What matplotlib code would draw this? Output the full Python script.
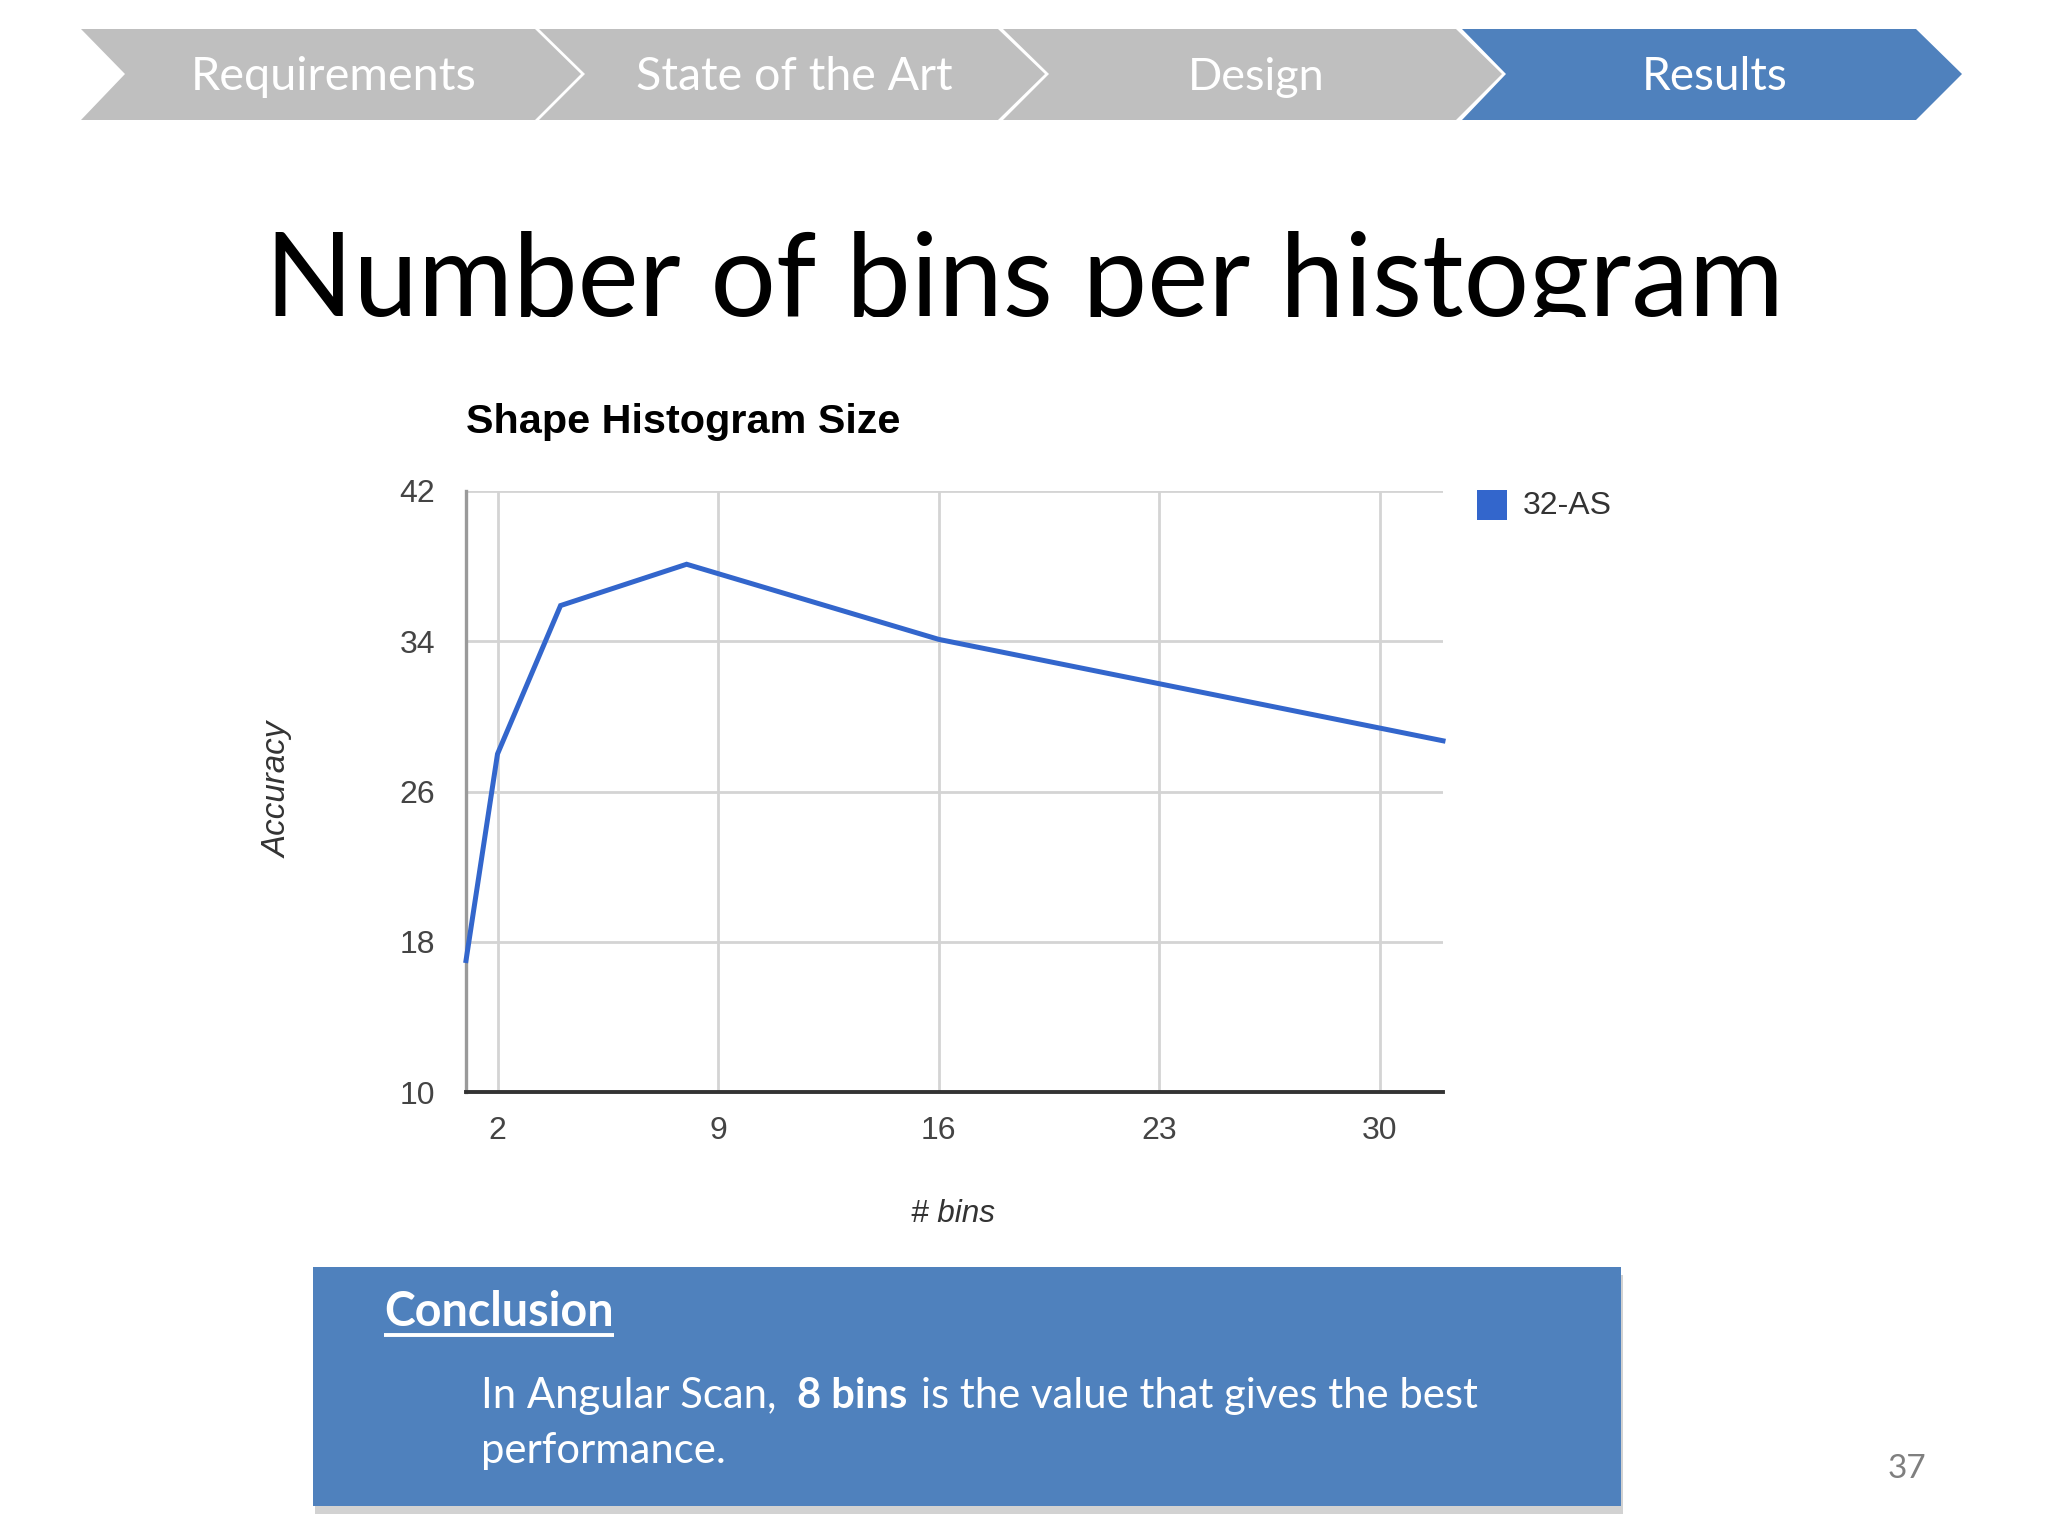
import matplotlib
matplotlib.use("Agg")
import matplotlib.pyplot as plt
from matplotlib.patches import Polygon, Rectangle
from matplotlib.transforms import Bbox

# ---- data ----
bins = [1, 2, 4, 8, 16, 32]
accuracy = [17.0, 28.0, 35.9, 38.1, 34.1, 28.7]
series_name = "32-AS"
x_ticks = [2, 9, 16, 23, 30]
y_ticks = [10, 18, 26, 34, 42]
steps = ["Requirements", "State of the Art", "Design", "Results"]
active_step = "Results"

W, H = 2048, 1536
DPI = 200
fig = plt.figure(figsize=(W / DPI, H / DPI), dpi=DPI, facecolor="white")
ov = fig.add_axes([0, 0, 1, 1], zorder=0)
ov.set_xlim(0, W)
ov.set_ylim(H, 0)
ov.axis("off")
ov.patch.set_alpha(0)
renderer = fig.canvas.get_renderer()

SLIDE_FONT = ["Lato", "DejaVu Sans"]
CHART_FONT = ["Liberation Sans", "DejaVu Sans"]


def fit(t, w):
    bb = t.get_window_extent(renderer)
    t.set_fontsize(t.get_fontsize() * w / bb.width)
    return t


# ---- breadcrumb chevrons ----
GRAY = "#BFBFBF"
BLUE = "#4F81BD"
chev = [(81, 125, 535, 581), (539, 585, 998, 1045),
        (1003, 1049, 1456, 1502), (1462, 1506, 1916, 1962)]
top, bot, mid = 29, 120, 74
for name, (l, n, r, tip) in zip(steps, chev):
    col = BLUE if name == active_step else GRAY
    ov.add_patch(Polygon([(l, top), (r, top), (tip, mid), (r, bot), (l, bot), (n, mid)],
                         closed=True, facecolor=col, edgecolor="none"))
text_w = {"Requirements": 287, "State of the Art": 317, "Design": 137, "Results": 146}
centers = {"Requirements": 334, "State of the Art": 794, "Design": 1256, "Results": 1715}
for name in steps:
    t = ov.text(centers[name], 90, name, ha="center", va="baseline", color="white",
                fontsize=17, family=SLIDE_FONT)
    fit(t, text_w[name])

# ---- slide title (descenders clipped) ----
tt = ov.text(1024, 316, "Number of bins per histogram", ha="center", va="baseline",
             color="black", fontsize=40, family=SLIDE_FONT)
fit(tt, 1520)
tt.set_clip_box(Bbox([[0, H - 317], [W, H]]))
tt.set_clip_on(True)

# ---- chart ----
L, R, T, B = 466, 1443, 491, 1092
ax = fig.add_axes([L / W, 1 - B / H, (R - L) / W, (B - T) / H], zorder=1)
ax.plot(bins, accuracy, color="#3366CC", lw=1.8, solid_joinstyle="miter", clip_on=False, zorder=3)
ax.set_xlim(1, 32)
ax.set_ylim(10, 42)
ax.set_xticks(x_ticks)
ax.set_yticks(y_ticks)
ax.grid(True, color="#d4d4d4", lw=1.0)
ax.set_axisbelow(True)
for s in ("top", "right"):
    ax.spines[s].set_visible(False)
ax.spines["left"].set_color("#9a9a9a")
ax.spines["left"].set_linewidth(1.2)
ax.spines["bottom"].set_color("#333333")
ax.spines["bottom"].set_linewidth(1.4)
ax.tick_params(length=0, labelsize=11.5, colors="#444444")
ax.tick_params(axis="y", pad=11)
ax.tick_params(axis="x", pad=8.5)
for lab in ax.get_xticklabels() + ax.get_yticklabels():
    lab.set_family(CHART_FONT)

ct = ov.text(466, 433, "Shape Histogram Size", ha="left", va="baseline", color="black",
             fontsize=14, fontweight="bold", family=CHART_FONT)
fit(ct, 435)
yl = ov.text(278, 790, "Accuracy", ha="center", va="center", rotation=90, color="#333333",
             fontsize=11, fontstyle="italic", family=CHART_FONT)
yl.set_fontsize(yl.get_fontsize() * 136 / yl.get_window_extent(renderer).height)
xl = ov.text(953, 1214, "# bins", ha="center", va="center", color="#333333",
             fontsize=11, fontstyle="italic", family=CHART_FONT)
fit(xl, 84)

# legend
ov.add_patch(Rectangle((1477, 490), 30, 30, facecolor="#3366CC", edgecolor="none"))
lt = ov.text(1523, 506, series_name, ha="left", va="center", color="#333333",
             fontsize=12, family=CHART_FONT)
fit(lt, 89)

# ---- conclusion box ----
bx0, bx1, by0, by1 = 313, 1621, 1267, 1506
ov.add_patch(Rectangle((bx0 + 2, by0 + 8), bx1 - bx0, by1 - by0, facecolor="#d2d2d2",
                       edgecolor="none"))
ov.add_patch(Rectangle((bx0, by0), bx1 - bx0, by1 - by0, facecolor=BLUE, edgecolor="none"))

hc = ov.text(384, 1326, "Conclusion", ha="left", va="baseline", color="white",
             fontsize=20, fontweight="bold", family=SLIDE_FONT)
fit(hc, 230)
ov.plot([384, 384 + 230], [1335, 1335], color="white", lw=1.4, solid_capstyle="butt")

p3 = ov.text(921, 1408, "is the value that gives the best", ha="left", va="baseline",
             color="white", fontsize=18, family=SLIDE_FONT)
fit(p3, 556)
fs = p3.get_fontsize()
ov.text(481, 1408, "In Angular Scan,", ha="left", va="baseline", color="white",
        fontsize=fs, family=SLIDE_FONT)
ov.text(797, 1408, "8 bins", ha="left", va="baseline", color="white",
        fontsize=fs, fontweight="bold", family=SLIDE_FONT)
ov.text(481, 1463, "performance.", ha="left", va="baseline", color="white",
        fontsize=fs, family=SLIDE_FONT)

ov.text(1907, 1478, "37", ha="center", va="baseline", color="#7f7f7f",
        fontsize=fs * 0.8, family=SLIDE_FONT)

fig.savefig("out.png", dpi=DPI, facecolor="white")
